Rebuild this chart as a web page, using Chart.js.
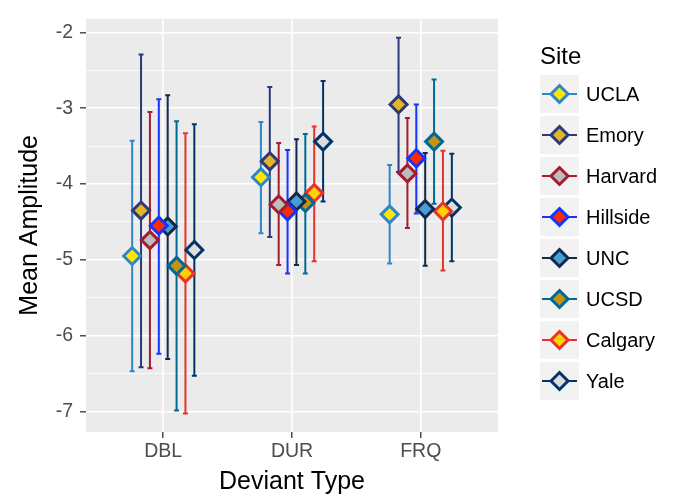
<!DOCTYPE html>
<html lang="en">
<head>
    <meta charset="UTF-8">
    <title>Mean Amplitude by Deviant Type</title>
    <script src="https://cdn.jsdelivr.net/npm/chart.js"></script>
    <style>
        body {
            margin: 0;
            background: white;
        }

        .chart-box {
            width: 673px;
            height: 494px;
        }
    </style>
</head>
<body>
    <div class="chart-box">
        <canvas id="chart"></canvas>
    </div>

    <script>
        const categories = ['DBL', 'DUR', 'FRQ'];
        const sites = ['UCLA', 'Emory', 'Harvard', 'Hillside', 'UNC', 'UCSD', 'Calgary', 'Yale'];

        // means and error bar ends, one value per site (same order as sites)
        const meanDBL = [-4.95, -4.35, -4.74, -4.55, -4.56, -5.08, -5.18, -4.87];
        const lowDBL  = [-6.47, -6.42, -6.43, -6.24, -6.31, -6.99, -7.03, -6.53];
        const highDBL = [-3.43, -2.29, -3.05, -2.88, -2.83, -3.17, -3.33, -3.21];

        const meanDUR = [-3.91, -3.70, -4.27, -4.36, -4.23, -4.25, -4.12, -3.44];
        const lowDUR  = [-4.65, -4.70, -5.07, -5.18, -5.07, -5.18, -5.02, -4.23];
        const highDUR = [-3.18, -2.72, -3.46, -3.55, -3.41, -3.34, -3.24, -2.64];

        const meanFRQ = [-4.40, -2.95, -3.86, -3.66, -4.33, -3.44, -4.36, -4.31];
        const lowFRQ  = [-5.05, -3.84, -4.58, -4.39, -5.08, -4.26, -5.14, -5.02];
        const highFRQ = [-3.75, -2.07, -3.13, -2.95, -3.59, -2.62, -3.56, -3.60];

        const yTicks = [-7, -6.5, -6, -5.5, -5, -4.5, -4, -3.5, -3, -2.5, -2];

        const lineColors = ['#2F86C6', '#2E3779', '#A51C30', '#1535FF', '#13294B', '#006A96', '#E8332B', '#00356B'];
        const fillColors = ['#FFE600', '#E0B62A', '#BDBDBD', '#FF2A00', '#4B9CD3', '#C69214', '#FFD200', '#DDDDDD'];

        const means = [meanDBL, meanDUR, meanFRQ];
        const lows = [lowDBL, lowDUR, lowFRQ];
        const highs = [highDBL, highDUR, highFRQ];
        const dodge = 0.069;
        const markRadius = 8.5;
        const markBorder = 3;

        const datasets = sites.map((site, s) => ({
            label: site,
            data: categories.map((c, i) => ({
                x: i + 1 + (s - 3.5) * dodge,
                y: means[i][s],
                low: lows[i][s],
                high: highs[i][s]
            })),
            pointStyle: 'rectRot',
            pointRadius: markRadius,
            pointHoverRadius: markRadius,
            borderWidth: markBorder,
            pointBorderWidth: markBorder,
            borderColor: lineColors[s],
            backgroundColor: fillColors[s],
            showLine: false
        }));

        const font = '"Liberation Sans", Arial, sans-serif';

        // grey panel, error bars, titles and legend
        const ggplotLook = {
            id: 'ggplotLook',
            beforeDraw(chart) {
                const { ctx, chartArea } = chart;
                ctx.save();
                ctx.fillStyle = '#EBEBEB';
                ctx.fillRect(chartArea.left, chartArea.top, chartArea.right - chartArea.left, chartArea.bottom - chartArea.top);
                ctx.restore();
            },
            beforeDatasetsDraw(chart) {
                const { ctx } = chart;
                const xs = chart.scales.x;
                const ys = chart.scales.y;
                ctx.save();
                ctx.lineWidth = 2;
                chart.data.datasets.forEach(ds => {
                    ctx.strokeStyle = ds.borderColor;
                    ds.data.forEach(p => {
                        const px = xs.getPixelForValue(p.x);
                        const top = ys.getPixelForValue(p.high);
                        const bot = ys.getPixelForValue(p.low);
                        ctx.beginPath();
                        ctx.moveTo(px, top);
                        ctx.lineTo(px, bot);
                        ctx.moveTo(px - 2.5, top);
                        ctx.lineTo(px + 2.5, top);
                        ctx.moveTo(px - 2.5, bot);
                        ctx.lineTo(px + 2.5, bot);
                        ctx.stroke();
                    });
                });
                ctx.restore();
            },
            afterDraw(chart) {
                const { ctx, chartArea } = chart;
                ctx.save();
                ctx.fillStyle = '#000';

                // axis titles
                ctx.font = '25px ' + font;
                ctx.textAlign = 'center';
                ctx.textBaseline = 'alphabetic';
                ctx.fillText('Deviant Type', (chartArea.left + chartArea.right) / 2, 489);
                ctx.save();
                ctx.translate(36.5, (chartArea.top + chartArea.bottom) / 2);
                ctx.rotate(-Math.PI / 2);
                ctx.fillText('Mean Amplitude', 0, 0);
                ctx.restore();

                // legend
                ctx.textAlign = 'left';
                ctx.font = '24px ' + font;
                ctx.fillText('Site', 540, 64);
                ctx.font = '20px ' + font;
                ctx.textBaseline = 'middle';
                chart.data.datasets.forEach((ds, i) => {
                    const top = 75 + i * 41;
                    const cy = top + 19;
                    ctx.fillStyle = '#F2F2F2';
                    ctx.fillRect(540, top, 39, 38);
                    ctx.strokeStyle = ds.borderColor;
                    ctx.lineWidth = 2;
                    ctx.beginPath();
                    ctx.moveTo(542, cy);
                    ctx.lineTo(577, cy);
                    ctx.stroke();
                    ctx.fillStyle = ds.backgroundColor;
                    ctx.lineWidth = markBorder;
                    Chart.helpers.drawPoint(ctx, { pointStyle: 'rectRot', radius: markRadius, rotation: 0, borderWidth: markBorder }, 559.5, cy);
                    ctx.fillStyle = '#000';
                    ctx.fillText(ds.label, 586, cy + 1);
                });
                ctx.restore();
            }
        };

        new Chart(document.getElementById('chart'), {
            type: 'scatter',
            data: { datasets: datasets },
            plugins: [ggplotLook],
            options: {
                responsive: true,
                maintainAspectRatio: false,
                animation: false,
                layout: {
                    padding: { left: 0, right: 175, top: 13, bottom: 0 }
                },
                plugins: {
                    legend: { display: false },
                    tooltip: { enabled: false }
                },
                scales: {
                    x: {
                        type: 'linear',
                        min: 0.4,
                        max: 3.6,
                        afterBuildTicks: scale => {
                            scale.ticks = categories.map((c, i) => ({ value: i + 1 }));
                        },
                        afterFit: scale => { scale.height = 62; },
                        border: { display: false },
                        grid: {
                            color: '#FFFFFF',
                            lineWidth: 1.6,
                            tickColor: '#333333',
                            tickLength: 6,
                            tickWidth: 1.3
                        },
                        ticks: {
                            color: '#4D4D4D',
                            font: { family: font, size: 19.5, lineHeight: 1.2 },
                            padding: 2,
                            callback: v => categories[Math.round(v) - 1]
                        }
                    },
                    y: {
                        min: -7.273,
                        max: -1.818,
                        afterBuildTicks: scale => {
                            scale.ticks = yTicks.map(v => ({ value: v }));
                        },
                        afterFit: scale => { scale.width = 86; },
                        border: { display: false },
                        grid: {
                            color: '#FFFFFF',
                            lineWidth: ctx => (ctx.tick && ctx.tick.value % 1 === 0 ? 1.6 : 0.8),
                            tickColor: ctx => (ctx.tick && ctx.tick.value % 1 === 0 ? '#333333' : 'rgba(0,0,0,0)'),
                            tickLength: 6,
                            tickWidth: 1.3
                        },
                        ticks: {
                            color: '#4D4D4D',
                            font: { family: font, size: 19.5, lineHeight: 1.2 },
                            padding: 7,
                            callback: v => (v % 1 === 0 ? String(v) : '')
                        }
                    }
                }
            }
        });
    </script>
</body>
</html>
